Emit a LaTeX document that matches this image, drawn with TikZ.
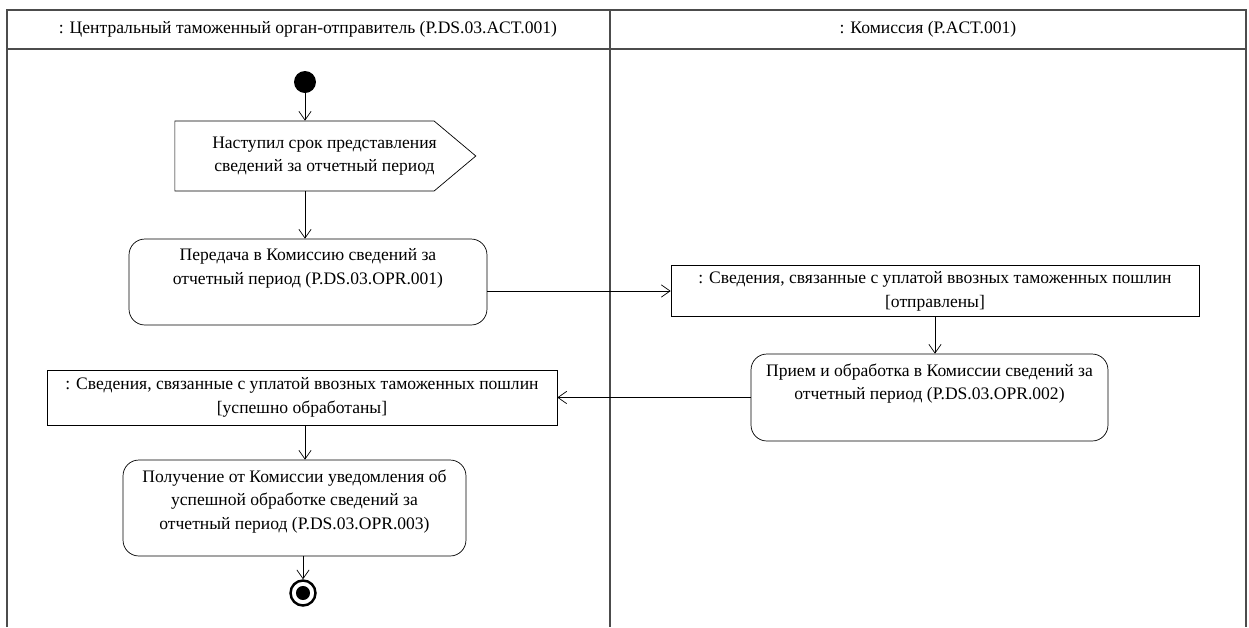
\documentclass[tikz,border=0pt]{standalone}
\usepackage{fontspec}
\setmainfont{Liberation Serif}
\usetikzlibrary{arrows.meta,shapes.symbols}

\begin{document}
\begin{tikzpicture}[x=0.02cm,y=-0.02cm,
  font=\fontsize{10}{13.5}\selectfont,
  >={Straight Barb[length=5pt,width=7pt]},
  lane/.style={draw=black!70,line width=0.9pt},
  act/.style={draw,rounded corners=9pt,thin},
  obj/.style={draw,thin,align=center},
  lbl/.style={anchor=north,align=center,inner sep=5.5pt},
  flow/.style={->,thin}]
\useasboundingbox (0,0) rectangle (1249,627);
\draw[lane] (7,627) -- (7,10) -- (1246,10) -- (1246,627);
\draw[lane] (7,49) -- (1246,49);
\draw[lane] (610,10) -- (610,627);
\node (hdrA) at (308,29.5) {: Центральный таможенный орган-отправитель (P.DS.03.ACT.001)};
\node (hdrB) at (928,29.5) {: Комиссия (P.ACT.001)};
\node[circle,fill,inner sep=0pt,minimum size=0.44cm] (start) at (305,82) {};
\node[draw,thin,signal,signal to=east,signal pointer angle=80,minimum width=6.02cm,minimum height=1.4cm,
  label={[align=center,xshift=0.4cm]center:Наступил срок представления\\сведений за отчетный период}] (sig) at (304.5,156) {};
\node[act,minimum width=7.16cm,minimum height=1.72cm,label={[lbl]north:Передача в Комиссию сведений за\\отчетный период (P.DS.03.OPR.001)}] (act1) at (308,282) {};
\node[obj,minimum width=10.56cm,minimum height=0.96cm] (obj1) at (935,291) {: Сведения, связанные с уплатой ввозных таможенных пошлин\\{[отправлены]}};
\node[act,minimum width=7.14cm,minimum height=1.74cm,label={[lbl]north:Прием и обработка в Комиссии сведений за\\отчетный период (P.DS.03.OPR.002)}] (act2) at (929.5,397.5) {};
\node[obj,minimum width=10.2cm,minimum height=1.1cm] (obj2) at (302,397.5) {: Сведения, связанные с уплатой ввозных таможенных пошлин\\{[успешно обработаны]}};
\node[act,minimum width=6.86cm,minimum height=1.92cm,label={[lbl]north:Получение от Комиссии уведомления об\\успешной обработке сведений за\\отчетный период (P.DS.03.OPR.003)}] (act3) at (294.5,508) {};
\node[circle,draw,line width=1.4pt,inner sep=0pt,minimum size=0.5cm,path picture={\fill (path picture bounding box.center) circle (4pt);}] (final) at (303,593) {};
\draw[flow] (start) -- (start |- sig.north);
\draw[flow] (start |- sig.south) -- (start |- act1.north);
\draw[flow] (obj1.west -| act1.east) -- (obj1.west);
\draw[flow] (obj1.south) -- (obj1.south |- act2.north);
\draw[flow] (act2.west) -- (act2.west -| obj2.east);
\draw[flow] (obj2.south -| start) -- (act3.north -| start);
\draw[flow] (act3.south -| final) -- (final);
\end{tikzpicture}
\end{document}
